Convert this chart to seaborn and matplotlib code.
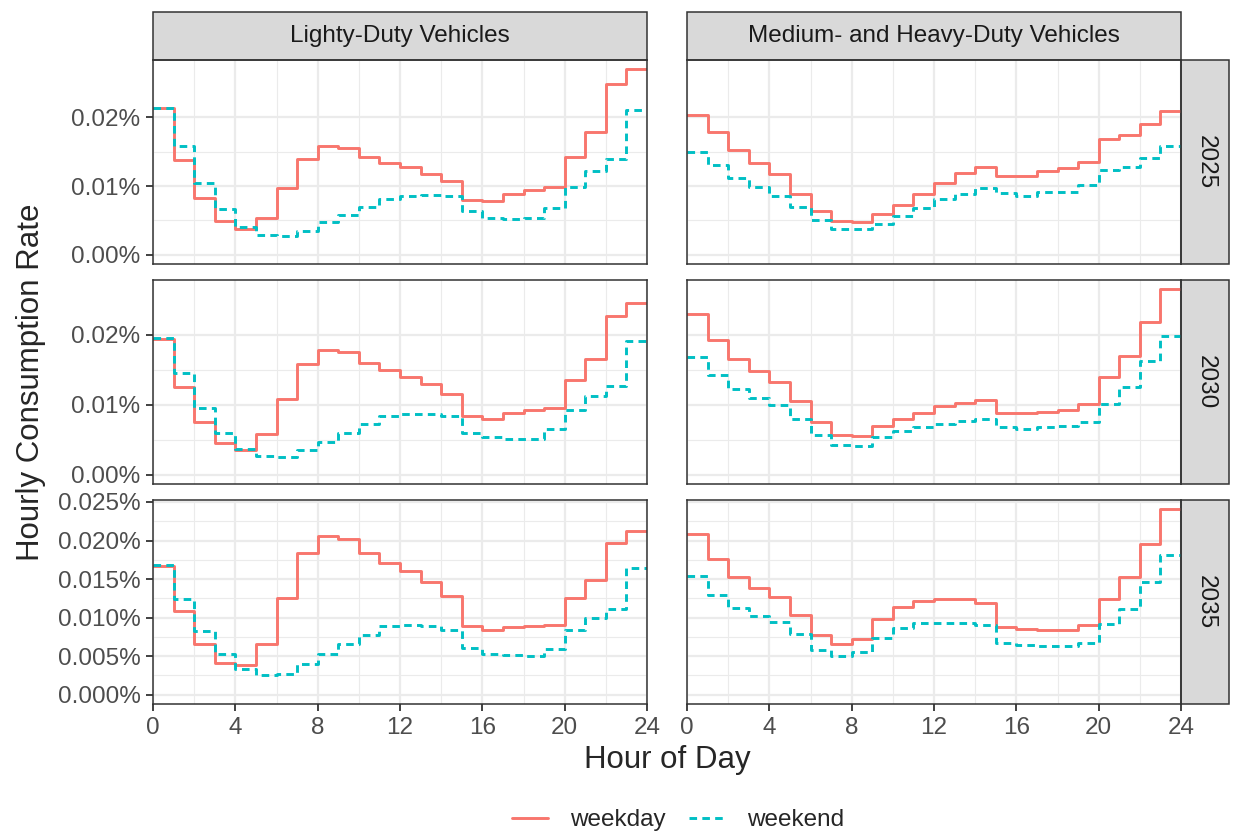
import numpy as np
import pandas as pd
import matplotlib
matplotlib.use("Agg")
import matplotlib.pyplot as plt
from matplotlib.patches import Rectangle
from matplotlib.lines import Line2D
import seaborn as sns

sns.set_theme(style="white")
plt.rcParams['font.family'] = ['Liberation Sans', 'DejaVu Sans']

hours = list(range(24))
vehicles = ["Lighty-Duty Vehicles", "Medium- and Heavy-Duty Vehicles"]
years = ["2025", "2030", "2035"]
day_types = ["weekday", "weekend"]

# values in percent
ld_2025_weekday = [0.0213,0.0138,0.0082,0.0049,0.0037,0.0054,0.0097,0.0140,0.0158,0.0156,0.0142,0.0134,0.0127,0.0118,0.0107,0.0080,0.0078,0.0089,0.0094,0.0099,0.0142,0.0178,0.0248,0.0270]
ld_2025_weekend = [0.0214,0.0159,0.0104,0.0067,0.0041,0.0028,0.0027,0.0035,0.0047,0.0058,0.0070,0.0081,0.0086,0.0087,0.0085,0.0063,0.0054,0.0052,0.0053,0.0068,0.0099,0.0122,0.0139,0.0210]
mhd_2025_weekday = [0.0203,0.0179,0.0152,0.0134,0.0117,0.0089,0.0064,0.0049,0.0048,0.0060,0.0073,0.0089,0.0104,0.0119,0.0128,0.0115,0.0115,0.0122,0.0126,0.0135,0.0168,0.0174,0.0190,0.0209]
mhd_2025_weekend = [0.0150,0.0130,0.0112,0.0099,0.0085,0.0069,0.0050,0.0038,0.0037,0.0045,0.0057,0.0068,0.0081,0.0088,0.0097,0.0090,0.0086,0.0092,0.0092,0.0101,0.0124,0.0128,0.0141,0.0159]
ld_2030_weekday = [0.0194,0.0126,0.0075,0.0045,0.0036,0.0058,0.0108,0.0158,0.0178,0.0176,0.0160,0.0149,0.0140,0.0130,0.0116,0.0084,0.0080,0.0088,0.0093,0.0095,0.0135,0.0166,0.0227,0.0246]
ld_2030_weekend = [0.0195,0.0145,0.0095,0.0060,0.0037,0.0027,0.0026,0.0035,0.0047,0.0060,0.0073,0.0084,0.0087,0.0087,0.0084,0.0060,0.0054,0.0051,0.0051,0.0065,0.0092,0.0113,0.0127,0.0191]
mhd_2030_weekday = [0.0230,0.0193,0.0165,0.0148,0.0132,0.0106,0.0075,0.0057,0.0055,0.0069,0.0080,0.0088,0.0098,0.0103,0.0107,0.0088,0.0088,0.0090,0.0092,0.0101,0.0139,0.0169,0.0218,0.0265]
mhd_2030_weekend = [0.0168,0.0142,0.0122,0.0109,0.0099,0.0080,0.0057,0.0043,0.0041,0.0054,0.0062,0.0068,0.0073,0.0077,0.0080,0.0068,0.0066,0.0068,0.0069,0.0076,0.0101,0.0125,0.0162,0.0198]
ld_2035_weekday = [0.01668,0.01092,0.00659,0.00416,0.00390,0.00659,0.01248,0.01837,0.02062,0.02019,0.01833,0.01707,0.01603,0.01464,0.01278,0.00897,0.00845,0.00884,0.00897,0.00910,0.01248,0.01482,0.01963,0.02119]
ld_2035_weekend = [0.01677,0.01244,0.00823,0.00529,0.00338,0.00260,0.00273,0.00394,0.00524,0.00654,0.00771,0.00888,0.00906,0.00888,0.00836,0.00607,0.00533,0.00511,0.00498,0.00598,0.00836,0.00997,0.01118,0.01646]
mhd_2035_weekday = [0.02088,0.01759,0.01525,0.01382,0.01261,0.01040,0.00771,0.00659,0.00724,0.00979,0.01135,0.01209,0.01244,0.01235,0.01187,0.00880,0.00858,0.00845,0.00845,0.00906,0.01244,0.01521,0.01958,0.02405]
mhd_2035_weekend = [0.01538,0.01291,0.01127,0.01018,0.00945,0.00784,0.00581,0.00498,0.00550,0.00741,0.00871,0.00927,0.00936,0.00936,0.00910,0.00676,0.00641,0.00628,0.00628,0.00667,0.00914,0.01118,0.01464,0.01811]

series = {
    ("2025", vehicles[0]): (ld_2025_weekday, ld_2025_weekend),
    ("2025", vehicles[1]): (mhd_2025_weekday, mhd_2025_weekend),
    ("2030", vehicles[0]): (ld_2030_weekday, ld_2030_weekend),
    ("2030", vehicles[1]): (mhd_2030_weekday, mhd_2030_weekend),
    ("2035", vehicles[0]): (ld_2035_weekday, ld_2035_weekend),
    ("2035", vehicles[1]): (mhd_2035_weekday, mhd_2035_weekend),
}

rows = []
for (yr, veh), (wd, we) in series.items():
    for dt, vals in zip(day_types, (wd, we)):
        ext = list(vals) + [vals[-1]]  # geom_step end at hour 24
        for h, v in zip(list(hours) + [24], ext):
            rows.append(dict(year=yr, vehicle=veh, day=dt, hour=h, rate=v))
df = pd.DataFrame(rows)

palette = {"weekday": "#F8766D", "weekend": "#00BFC4"}
dashes = {"weekday": "", "weekend": (2.6, 1.8)}

W, H = 1235, 833
fig, axes = plt.subplots(3, 2, figsize=(W / 100, H / 100), dpi=100, sharex=True)
left, right = 153 / W, 1181 / W
top, bottom = 1 - 60 / H, 1 - 704 / H
fig.subplots_adjust(left=left, right=right, top=top, bottom=bottom, wspace=40 / 494, hspace=16 / 204)

grid_c = "#EBEBEB"
dark = "#333333"
TS = 17.5
for i, yr in enumerate(years):
    sub_row = df[df.year == yr]
    m = sub_row.rate.max()
    for j, veh in enumerate(vehicles):
        ax = axes[i, j]
        sub = sub_row[sub_row.vehicle == veh]
        sns.lineplot(data=sub, x="hour", y="rate", hue="day", style="day",
                     palette=palette, dashes=dashes, estimator=None,
                     drawstyle="steps-post", linewidth=2.1, legend=False, ax=ax)
        ax.set_xlim(0, 24)
        ax.set_ylim(-0.05 * m, 1.05 * m)
        if i < 2:
            yt = [0.0, 0.01, 0.02]
            fmt = "{:.2f}%"
        else:
            yt = [0.0, 0.005, 0.01, 0.015, 0.02, 0.025]
            fmt = "{:.3f}%"
        ax.set_yticks(yt)
        ax.set_yticks([a + (yt[1] - yt[0]) / 2 for a in yt[:-1]], minor=True)
        ax.set_xticks([0, 4, 8, 12, 16, 20, 24])
        ax.set_xticks([2, 6, 10, 14, 18, 22], minor=True)
        ax.grid(True, which="major", color=grid_c, linewidth=1.6)
        ax.grid(True, which="minor", color=grid_c, linewidth=0.8)
        ax.set_axisbelow(True)
        for s in ax.spines.values():
            s.set_color(dark)
            s.set_linewidth(1.1)
            s.set_visible(True)
        ax.tick_params(axis="both", which="major", length=5, width=1.3, color=dark,
                       labelsize=TS, labelcolor="#4D4D4D", pad=4, left=(j == 0), bottom=(i == 2))
        ax.tick_params(axis="both", which="minor", length=0)
        if j == 0:
            ax.set_yticklabels([fmt.format(v) for v in yt])
        else:
            ax.tick_params(axis="y", labelleft=False)
        ax.set_xlabel("")
        ax.set_ylabel("")
        ax.set_facecolor("white")
        ph = ax.get_position().height * H
        pw = ax.get_position().width * W
        # top strips
        if i == 0:
            r = Rectangle((0, 1.0), 1, 48 / ph, transform=ax.transAxes, clip_on=False,
                          facecolor="#D9D9D9", edgecolor=dark, linewidth=1.1)
            ax.add_patch(r)
            ax.text(0.5, 1 + 24 / ph, veh, transform=ax.transAxes, ha="center", va="center",
                    fontsize=TS, color="#1A1A1A")
        # right strips
        if j == 1:
            r = Rectangle((1.0, 0), 48 / pw, 1, transform=ax.transAxes, clip_on=False,
                          facecolor="#D9D9D9", edgecolor=dark, linewidth=1.1)
            ax.add_patch(r)
            ax.text(1 + 25 / pw, 0.5, yr, transform=ax.transAxes, ha="center", va="center",
                    rotation=-90, fontsize=TS, color="#1A1A1A")

fig.text((153 + 1181) / 2 / W, 1 - 760 / H, "Hour of Day", ha="center", va="center", fontsize=22.5)
fig.text(31 / W, 1 - 382 / H, "Hourly Consumption Rate", ha="center", va="center",
         rotation=90, fontsize=22.5)

handles = [Line2D([], [], color=palette["weekday"], lw=2.1),
           Line2D([], [], color=palette["weekend"], lw=2.1, dashes=(2.6, 1.8))]
fig.legend(handles, day_types, loc="center", bbox_to_anchor=(678 / W, 1 - 820 / H), ncol=2,
           frameon=False, fontsize=TS, handlelength=1.5, columnspacing=0.95, handletextpad=0.9)

fig.savefig("out.png", dpi=100, facecolor="white")
